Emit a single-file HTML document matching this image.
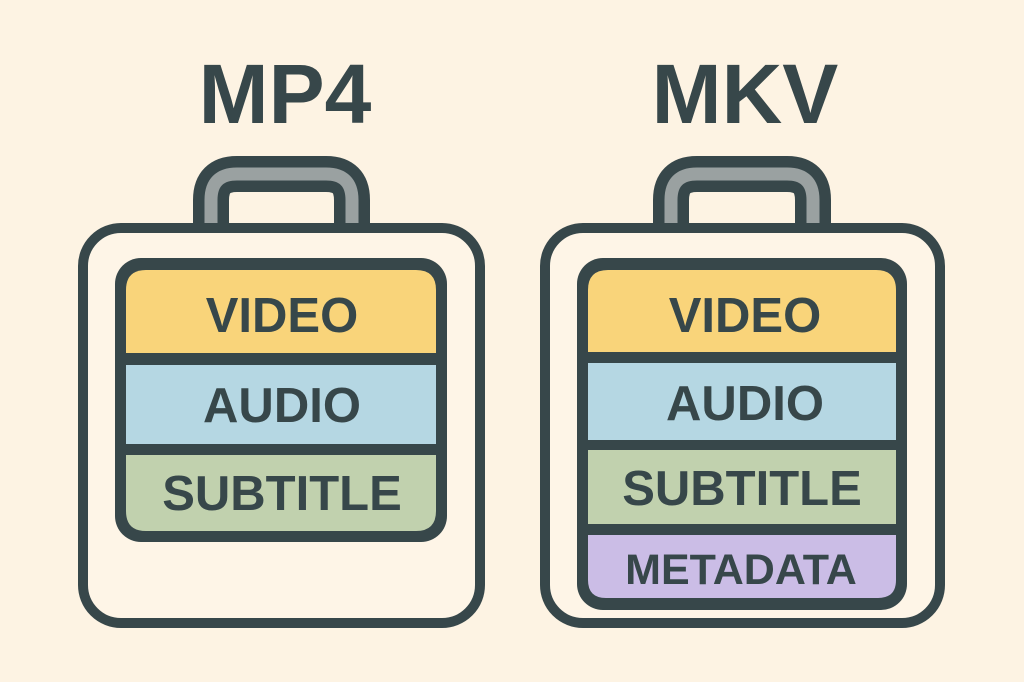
<!DOCTYPE html>
<html><head><meta charset="utf-8"><style>
html,body{margin:0;padding:0;background:#fdf3e3;}
svg{display:block}
text{font-family:"Liberation Sans",Arial,sans-serif;font-weight:bold;fill:#37474a;text-anchor:middle}
</style></head><body>
<svg width="1024" height="682" viewBox="0 0 1024 682">
<rect width="1024" height="682" fill="#fdf3e3"/>
<text x="285" y="123" font-size="84">MP4</text>
<text x="745" y="123" font-size="84">MKV</text>

<!-- Left -->
<path d="M211 228 V200 Q211 174 237 174 H326 Q352 174 352 200 V228" fill="none" stroke="#37474a" stroke-width="36"/>
<path d="M211 228 V200 Q211 174 237 174 H326 Q352 174 352 200 V228" fill="none" stroke="#9aa1a1" stroke-width="13"/>
<rect x="83" y="228" width="397" height="395" rx="38" fill="#fef5e7" stroke="#37474a" stroke-width="10"/>
<rect x="115" y="258" width="332" height="284" rx="26" fill="#37474a"/>
<path d="M126 353 V290 Q126 270 146 270 H416 Q436 270 436 290 V353 Z" fill="#f9d47a"/>
<rect x="126" y="365" width="310" height="79" fill="#b5d7e3"/>
<path d="M126 455 H436 V511 Q436 531 416 531 H146 Q126 531 126 511 Z" fill="#c1d1ae"/>
<text x="282" y="332" font-size="49">VIDEO</text>
<text x="282" y="422" font-size="49">AUDIO</text>
<text x="282" y="510" font-size="49">SUBTITLE</text>

<!-- Right -->
<path d="M671 228 V200 Q671 174 697 174 H787 Q813 174 813 200 V228" fill="none" stroke="#37474a" stroke-width="36"/>
<path d="M671 228 V200 Q671 174 697 174 H787 Q813 174 813 200 V228" fill="none" stroke="#9aa1a1" stroke-width="13"/>
<rect x="545" y="228" width="395" height="395" rx="38" fill="#fef5e7" stroke="#37474a" stroke-width="10"/>
<rect x="577" y="258" width="330" height="352" rx="26" fill="#37474a"/>
<path d="M588 352 V290 Q588 270 608 270 H876 Q896 270 896 290 V352 Z" fill="#f9d47a"/>
<rect x="588" y="363" width="308" height="77" fill="#b5d7e3"/>
<rect x="588" y="450" width="308" height="74" fill="#c1d1ae"/>
<path d="M588 535 H896 V580 Q896 598 878 598 H606 Q588 598 588 580 Z" fill="#cbbde6"/>
<text x="745" y="332" font-size="49">VIDEO</text>
<text x="745" y="420" font-size="49">AUDIO</text>
<text x="742" y="505" font-size="49">SUBTITLE</text>
<text x="741" y="584" font-size="43">METADATA</text>
</svg>
</body></html>
